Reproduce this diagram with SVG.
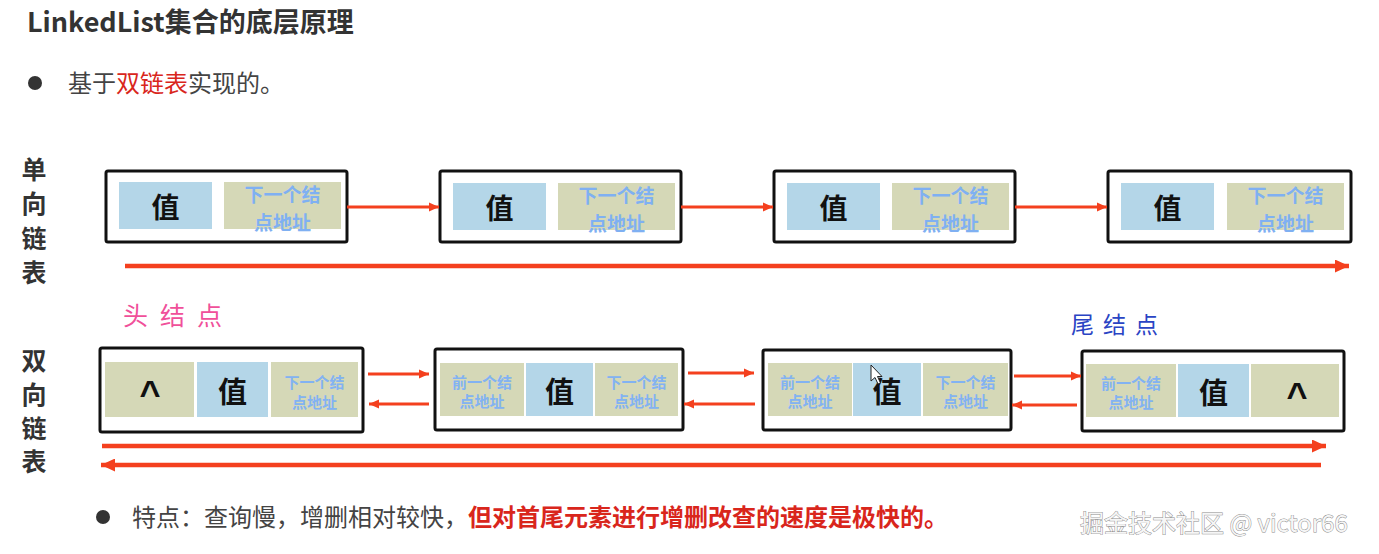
<svg xmlns="http://www.w3.org/2000/svg" width="1379" height="554" viewBox="0 0 1379 554">
<style>
  text { font-family: "Noto Sans CJK SC", "Noto Sans", sans-serif; }
  .box { fill: none; stroke: #111; stroke-width: 3; }
  .val { fill: #b4d6e8; }
  .ptr { fill: #d5d8b7; }
  .vt1 { font-size: 28px; font-weight: bold; fill: #111; text-anchor: middle; dominant-baseline: central; }
  .vt2 { font-size: 29px; font-weight: 600; fill: #111; text-anchor: middle; dominant-baseline: central; }
  .pt1 { font-size: 19px; font-weight: bold; fill: #7fb0f2; text-anchor: middle; dominant-baseline: central; }
  .pt2 { font-size: 15px; font-weight: bold; fill: #82b2f2; text-anchor: middle; dominant-baseline: central; }
  .nul { font-family: "Liberation Sans", Arial, sans-serif; font-size: 36px; font-weight: bold; fill: #111; text-anchor: middle; }
  .side { font-size: 25px; font-weight: bold; fill: #333; text-anchor: middle; dominant-baseline: central; }
  .arr { stroke: #f4401e; stroke-width: 3; fill: none; marker-end: url(#ah); }
  .arrL { stroke: #f4401e; stroke-width: 4.5; fill: none; marker-end: url(#ahL); }
</style>
<defs>
  <marker id="ah" markerUnits="userSpaceOnUse" markerWidth="10" markerHeight="10" refX="10" refY="5" orient="auto">
    <path d="M0,0.5 L10,5 L0,9.5 Z" fill="#f4401e"/>
  </marker>
  <marker id="ahL" markerUnits="userSpaceOnUse" markerWidth="14" markerHeight="13" refX="14" refY="6.5" orient="auto">
    <path d="M0,0 L14,6.5 L0,13 Z" fill="#f4401e"/>
  </marker>
</defs>
<rect x="0" y="0" width="1379" height="554" fill="#ffffff"/>

<!-- header -->
<text x="27" y="32" font-size="27" font-weight="bold" fill="#333">LinkedList集合的底层原理</text>
<circle cx="35" cy="83" r="7" fill="#333"/>
<text x="68" y="92" font-size="24" fill="#444">基于<tspan fill="#d9261c">双链表</tspan>实现的。</text>

<!-- side labels -->
<g id="label-single">
  <text class="side" x="34" y="168">单</text>
  <text class="side" x="34" y="202">向</text>
  <text class="side" x="34" y="237">链</text>
  <text class="side" x="34" y="271">表</text>
</g>
<g id="label-double">
  <text class="side" x="34" y="359">双</text>
  <text class="side" x="34" y="393">向</text>
  <text class="side" x="34" y="427">链</text>
  <text class="side" x="34" y="460">表</text>
</g>

<!-- single linked list nodes -->
<g id="s1">
  <rect class="box" x="106" y="171" width="241" height="71" rx="2"/>
  <rect class="val" x="119" y="182" width="93" height="47"/>
  <rect class="ptr" x="224" y="182" width="117" height="47"/>
  <text class="vt1" x="165.5" y="206">值</text>
  <text class="pt1" x="282.5" y="193">下一个结</text>
  <text class="pt1" x="282.5" y="221">点地址</text>
</g>
<g id="s2">
  <rect class="box" x="440" y="171" width="241" height="71" rx="2"/>
  <rect class="val" x="453" y="183" width="93" height="47"/>
  <rect class="ptr" x="558" y="183" width="117" height="47"/>
  <text class="vt1" x="499.5" y="207">值</text>
  <text class="pt1" x="616.5" y="194">下一个结</text>
  <text class="pt1" x="616.5" y="222">点地址</text>
</g>
<g id="s3">
  <rect class="box" x="774" y="171" width="241" height="71" rx="2"/>
  <rect class="val" x="787" y="183" width="93" height="47"/>
  <rect class="ptr" x="892" y="183" width="117" height="47"/>
  <text class="vt1" x="833.5" y="207">值</text>
  <text class="pt1" x="950.5" y="194">下一个结</text>
  <text class="pt1" x="950.5" y="222">点地址</text>
</g>
<g id="s4">
  <rect class="box" x="1108" y="171" width="243" height="71" rx="2"/>
  <rect class="val" x="1121" y="183" width="93" height="47"/>
  <rect class="ptr" x="1227" y="183" width="117" height="47"/>
  <text class="vt1" x="1167.5" y="207">值</text>
  <text class="pt1" x="1285.5" y="194">下一个结</text>
  <text class="pt1" x="1285.5" y="222">点地址</text>
</g>

<!-- double linked list nodes -->
<g id="d1">
  <rect class="box" x="100" y="348" width="263" height="84" rx="2"/>
  <rect class="ptr" x="105" y="362" width="89" height="55"/>
  <rect class="val" x="197" y="362" width="71" height="55"/>
  <rect class="ptr" x="271" y="362" width="87" height="55"/>
  <text class="nul" x="150" y="406">^</text>
  <text class="vt2" x="232.5" y="389.5">值</text>
  <text class="pt2" x="314.5" y="381">下一个结</text>
  <text class="pt2" x="314.5" y="401">点地址</text>
</g>
<g id="d2">
  <rect class="box" x="435" y="349" width="248" height="81" rx="2"/>
  <rect class="ptr" x="440" y="363" width="84" height="53"/>
  <rect class="val" x="526" y="363" width="67" height="53"/>
  <rect class="ptr" x="595" y="363" width="83" height="53"/>
  <text class="pt2" x="482" y="381">前一个结</text>
  <text class="pt2" x="482" y="400">点地址</text>
  <text class="vt2" x="559.5" y="389.5">值</text>
  <text class="pt2" x="636.5" y="381">下一个结</text>
  <text class="pt2" x="636.5" y="400">点地址</text>
</g>
<g id="d3">
  <rect class="box" x="763" y="350" width="248" height="80" rx="2"/>
  <rect class="ptr" x="768" y="363" width="84" height="53"/>
  <rect class="val" x="853" y="363" width="68" height="53"/>
  <rect class="ptr" x="923" y="363" width="85" height="53"/>
  <text class="pt2" x="810" y="381">前一个结</text>
  <text class="pt2" x="810" y="400">点地址</text>
  <text class="vt2" x="887" y="390">值</text>
  <text class="pt2" x="965.5" y="381">下一个结</text>
  <text class="pt2" x="965.5" y="400">点地址</text>
</g>
<g id="d4">
  <rect class="box" x="1082" y="351" width="262" height="80" rx="2"/>
  <rect class="ptr" x="1086" y="364" width="90" height="53"/>
  <rect class="val" x="1178" y="364" width="71" height="53"/>
  <rect class="ptr" x="1251" y="364" width="88" height="53"/>
  <text class="pt2" x="1131" y="382">前一个结</text>
  <text class="pt2" x="1131" y="401">点地址</text>
  <text class="vt2" x="1213.5" y="390.5">值</text>
  <text class="nul" x="1297" y="408">^</text>
</g>

<!-- mouse cursor -->
<path d="M871,365 L871,381 L875,377.5 L878,384 L880.5,383 L877.5,376.5 L882,376.5 Z" fill="#fff" stroke="#222" stroke-width="1"/>

<!-- handwritten labels -->
<text x="123" y="314" font-size="25" fill="#f0509a" letter-spacing="12" dominant-baseline="central">头结点</text>
<text x="1071" y="323" font-size="23" fill="#2a44c4" letter-spacing="9" dominant-baseline="central">尾结点</text>

<!-- connectors -->
<g id="connectors">
  <line class="arr" x1="347" y1="207" x2="439" y2="207"/>
  <line class="arr" x1="681" y1="207" x2="773" y2="207"/>
  <line class="arr" x1="1015" y1="207" x2="1107" y2="207"/>
  <line class="arrL" x1="125" y1="266" x2="1349" y2="266"/>

  <line class="arr" x1="368" y1="374" x2="429" y2="374"/>
  <line class="arr" x1="429" y1="404" x2="369" y2="404"/>
  <line class="arr" x1="688" y1="373" x2="754" y2="373"/>
  <line class="arr" x1="755" y1="404" x2="684" y2="404"/>
  <line class="arr" x1="1014" y1="376" x2="1081" y2="376"/>
  <line class="arr" x1="1077" y1="405" x2="1012" y2="405"/>
  <line class="arrL" x1="102" y1="446" x2="1326" y2="446"/>
  <line class="arrL" x1="1321" y1="465" x2="101" y2="465"/>
</g>

<!-- footer -->
<circle cx="103" cy="517" r="7" fill="#333"/>
<text x="132" y="526" font-size="24" fill="#444">特点：查询慢，增删相对较快，<tspan fill="#d9261c" font-weight="bold">但对首尾元素进行增删改查的速度是极快的。</tspan></text>

<text x="1080" y="532" font-size="24" fill="#f6f6f6" stroke="#8a8a8a" stroke-width="0.9" paint-order="stroke">掘金技术社区 @ victor66</text>
</svg>
